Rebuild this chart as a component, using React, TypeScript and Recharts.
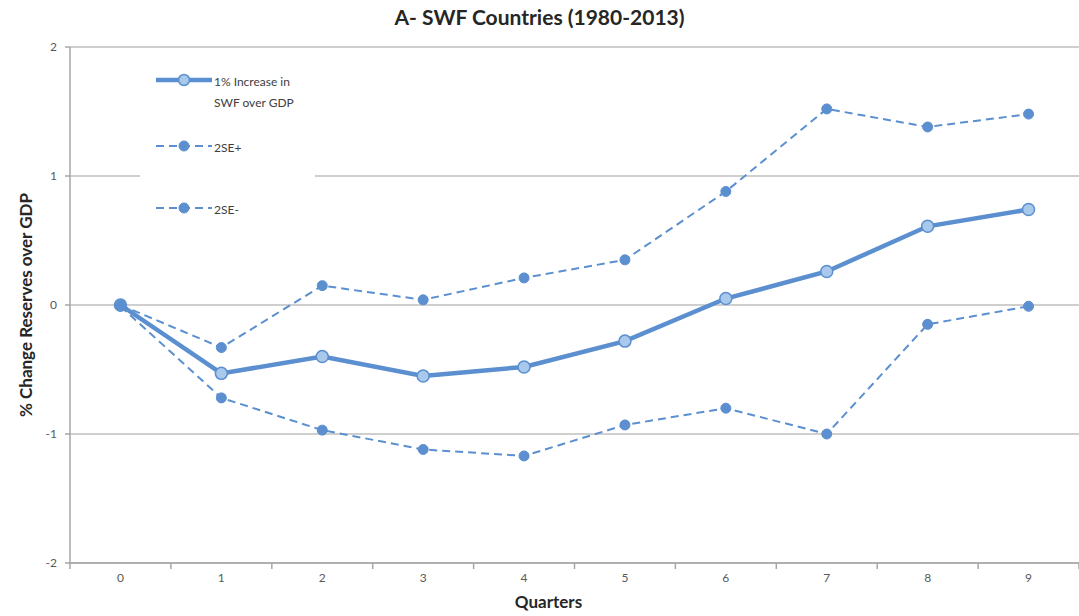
import { LineChart, Line, XAxis, YAxis, CartesianGrid, Legend, Label } from 'recharts';

const quarters = [0, 1, 2, 3, 4, 5, 6, 7, 8, 9];
const increase = [0, -0.53, -0.4, -0.55, -0.48, -0.28, 0.05, 0.26, 0.61, 0.74];
const sePlus = [0, -0.33, 0.15, 0.04, 0.21, 0.35, 0.88, 1.52, 1.38, 1.48];
const seMinus = [-0.01, -0.72, -0.97, -1.12, -1.17, -0.93, -0.8, -1.0, -0.15, -0.01];
const yTicks = [-2, -1, 0, 1, 2];
const xTicks = [-0.5, 0, 0.5, 1, 1.5, 2, 2.5, 3, 3.5, 4, 4.5, 5, 5.5, 6, 6.5, 7, 7.5, 8, 8.5, 9, 9.5];

const data = quarters.map((q, i) => ({
  q,
  increase: increase[i],
  sePlus: sePlus[i],
  seMinus: seMinus[i]
}));

const blue = '#5b8fcf';
const lightBlue = '#a8c8ec';
const font = 'Lato, "Open Sans", sans-serif';

function QuarterTick(props: any) {
  const { x, y, payload } = props;
  const v = payload.value;
  if (!Number.isInteger(v)) {
    return <line x1={x} x2={x} y1={y - 2} y2={y + 4} stroke="#a6a6a6" strokeWidth={1.5} />;
  }
  return (
    <text x={x} y={y + 17} textAnchor="middle" fontSize={12} fill="#595959" fontFamily={font}>
      {v}
    </text>
  );
}

function LegendBox(props: any) {
  const items = props.payload || [];
  const rows = [18, 84, 146];
  return (
    <div style={{ background: '#fff', width: 175, height: 168, position: 'relative', fontFamily: font }}>
      {items.map((it: any, i: number) => {
        const main = it.dataKey === 'increase';
        const top = rows[i];
        return (
          <div key={it.dataKey} style={{ position: 'absolute', left: 14, top: top - 10 }}>
            <svg width={60} height={20} style={{ position: 'absolute', left: 0, top: 0 }}>
              <line x1={2} x2={58} y1={10} y2={10} stroke={blue} strokeWidth={main ? 4.5 : 2} strokeDasharray={main ? undefined : '8 5'} />
              <circle cx={30} cy={10} r={main ? 5.5 : 5} fill={main ? lightBlue : blue} stroke={blue} strokeWidth={main ? 1.5 : 1} />
            </svg>
            <div style={{ position: 'absolute', left: 60, top: 1, fontSize: 12, color: '#404040', lineHeight: '21px', width: 110 }}>
              {main ? (
                <>
                  1% Increase in
                  <br />
                  SWF over GDP
                </>
              ) : (
                it.value
              )}
            </div>
          </div>
        );
      })}
    </div>
  );
}

export default function App() {
  return (
    <div style={{ position: 'absolute', left: 0, top: 0, width: 1079, height: 616, background: '#fff' }}>
      <div style={{ position: 'absolute', left: 0, top: 4, width: 1079, textAlign: 'center', fontFamily: font, fontWeight: 700, fontSize: 21, color: '#262626' }}>
        A- SWF Countries (1980-2013)
      </div>
      <LineChart width={1079} height={616} data={data} margin={{ top: 47, right: 0, left: 0, bottom: 0 }}>
        <CartesianGrid horizontal vertical={false} stroke="#bfbfbf" strokeWidth={1.5} />
        <XAxis
          dataKey="q"
          type="number"
          domain={[-0.5, 9.5]}
          ticks={xTicks}
          interval={0}
          height={53}
          tickSize={0}
          tickMargin={2}
          tick={<QuarterTick />}
          axisLine={{ stroke: '#a6a6a6', strokeWidth: 1.5 }}
          tickLine={false}
        >
          <Label value="Quarters" position="insideBottom" offset={8} dx={-26} style={{ fontFamily: font, fontWeight: 700, fontSize: 17, fill: '#262626' }} />
        </XAxis>
        <YAxis
          domain={[-2, 2]}
          ticks={yTicks}
          width={70}
          tickSize={5}
          tickMargin={8}
          tick={{ fontSize: 12, fill: '#595959', fontFamily: font }}
          axisLine={{ stroke: '#a6a6a6', strokeWidth: 1.5 }}
          tickLine={{ stroke: '#a6a6a6', strokeWidth: 1.5 }}
        >
          <Label value="% Change Reserves over GDP" angle={-90} position="insideLeft" offset={26} style={{ textAnchor: 'middle', fontFamily: font, fontWeight: 700, fontSize: 17, fill: '#262626' }} />
        </YAxis>
        <Legend
          layout="vertical"
          verticalAlign="middle"
          align="center"
          content={<LegendBox />}
          wrapperStyle={{ left: 140, top: 62, width: 175, height: 168 }}
        />
        <Line
          dataKey="increase"
          name="1% Increase in SWF over GDP"
          stroke={blue}
          strokeWidth={4.5}
          dot={{ r: 6, fill: lightBlue, stroke: blue, strokeWidth: 1.5 }}
          isAnimationActive={false}
        />
        <Line
          dataKey="sePlus"
          name="2SE+"
          stroke={blue}
          strokeWidth={2}
          strokeDasharray="8 5"
          dot={{ r: 5, fill: blue, stroke: blue, strokeWidth: 1, strokeDasharray: '' }}
          isAnimationActive={false}
        />
        <Line
          dataKey="seMinus"
          name="2SE-"
          stroke={blue}
          strokeWidth={2}
          strokeDasharray="8 5"
          dot={{ r: 5, fill: blue, stroke: blue, strokeWidth: 1, strokeDasharray: '' }}
          isAnimationActive={false}
        />
      </LineChart>
    </div>
  );
}
